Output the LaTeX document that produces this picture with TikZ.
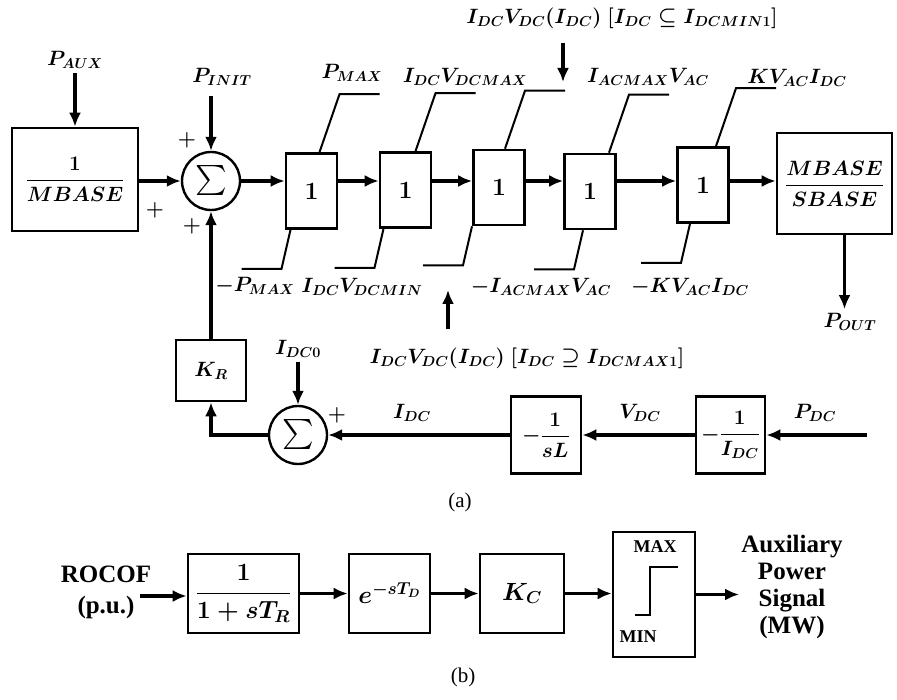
\documentclass[tikz,border=0pt]{standalone}
\usepackage{amsmath,amssymb}
\usepackage{fontspec}
\newfontfamily\timesfont{Liberation Serif}
\usetikzlibrary{arrows.meta,positioning}

\newcommand\mathlbl{\fontsize{19.5}{23}\selectfont\boldmath}
\tikzset{
  blk/.style={draw, line width=2.6pt, inner sep=0pt, font=\mathlbl},
  sumnode/.style={draw, circle, line width=2.4pt, minimum size=58pt, inner sep=0pt, font=\fontsize{30}{30}\selectfont},
  lbl/.style={inner sep=4pt, font=\mathlbl},
  sig/.style={line width=3.2pt, -{Latex[length=14pt,width=12pt]}},
  satline/.style={line width=2pt},
  plus/.style={inner sep=0pt, font=\fontsize{20}{20}\selectfont\boldmath},
  txt/.style={align=center, inner sep=2pt, font={\timesfont\bfseries\fontsize{25}{27}\selectfont}},
  capt/.style={font={\timesfont\fontsize{21}{21}\selectfont}}
}

\begin{document}
\begin{tikzpicture}[x=1pt,y=-1pt]
\useasboundingbox (0,0) rectangle (897,700);

% (a) power limiting chain
\node[blk, minimum width=126pt, minimum height=103pt, font=\fontsize{22.5}{26}\selectfont\boldmath] (mbase) at (75,179.5) {$\displaystyle\frac{1}{MBASE}$};
\node[lbl] (paux) at (75,60) {$P_{AUX}$};
\draw[sig] (paux.south) -- (mbase.north);

\node[sumnode] (sum1) at (211,181) {$\sum$};
\node[lbl] (pinit) at (222,77) {$P_{INIT}$};
\draw[sig, shorten <=6pt] (pinit.south -| sum1.north) -- (sum1.north);
\draw[sig] (mbase.east |- sum1.west) -- (sum1.west);
\node[plus] (pl1) at (187,140) {$+$};
\node[plus] (pl2) at (155,210) {$+$};
\node[plus] (pl3) at (192,226) {$+$};

\foreach \n/\cx/\cy in {1/311.5/191, 2/405.5/190, 3/499/187.5, 4/590/191.5, 5/703/185}
  \node[blk, minimum width=51pt, minimum height=75pt, font=\fontsize{25}{25}\selectfont\boldmath] (lim\n) at (\cx,\cy) {$1$};

\foreach \n/\tx/\bx in {1/8/-21, 2/10/-22, 3/6/-27, 4/19/-7, 5/13/-13}{
  \draw[satline] ([xshift=\tx pt]lim\n.north) -- ++(20,-58) -- ++(40,0);
  \draw[satline] ([xshift=\bx pt]lim\n.south) -- ++(-9,39) -- ++(-40,0);
}

\node[blk, minimum width=115pt, minimum height=101pt, font=\fontsize{22.5}{26}\selectfont\boldmath] (sbase) at (834.5,183.5) {$\displaystyle\frac{MBASE}{SBASE}$};

\draw[sig] (sum1.east) -- (sum1.east -| lim1.west);
\foreach \a/\b in {1/2, 2/3, 3/4, 4/5}
  \draw[sig] (lim\a.east |- sum1.east) -- (sum1.east -| lim\b.west);
\draw[sig] (lim5.east |- sum1.east) -- (sum1.east -| sbase.west);

\node[lbl] (pmax) at (352,73) {$P_{MAX}$};
\node[lbl] (vmax) at (465,77) {$I_{DC}V_{DCMAX}$};
\node[lbl] (iacmax) at (648,77) {$I_{ACMAX}V_{AC}$};
\node[lbl] (kvac) at (797,78) {$KV_{AC}I_{DC}$};
\node[lbl] (vdcmin1) at (622,18) {$I_{DC}V_{DC}(I_{DC})\ [I_{DC}\subseteq I_{DCMIN1}]$};
\coordinate (tip1) at (563,82);
\draw[sig, shorten <=10pt] (vdcmin1.south -| tip1) -- (tip1);

\node[lbl] (nmax) at (255,286) {$-P_{MAX}$};
\node[lbl] (vmin) at (362,287) {$I_{DC}V_{DCMIN}$};
\node[lbl] (niac) at (541,287) {$-I_{ACMAX}V_{AC}$};
\node[lbl] (nkv) at (690,287) {$-KV_{AC}I_{DC}$};
\node[lbl] (vdcmax1) at (527,358) {$I_{DC}V_{DC}(I_{DC})\ [I_{DC}\supseteq I_{DCMAX1}]$};
\coordinate (tip2) at (448,290);
\draw[sig, shorten <=14pt] (vdcmax1.north -| tip2) -- (tip2);

\node[lbl] (pout) at (850,322) {$P_{OUT}$};
\draw[sig] ([xshift=10pt]sbase.south) -- ([xshift=10pt]sbase.south |- pout.north);

% (a) dc feedback
\node[blk, minimum width=70pt, minimum height=61pt, font=\fontsize{22}{26}\selectfont\boldmath] (kr) at (211,370.5) {$K_R$};
\draw[sig] (kr.north) -- (sum1.south);
\node[sumnode] (sum2) at (298,435) {$\sum$};
\draw[sig] (sum2.west) -| (kr.south);
\node[lbl] (idc0) at (298,349) {$I_{DC0}$};
\draw[sig] (idc0.south) -- (sum2.north);
\node[plus] (pl4) at (337,415) {$+$};

\node[blk, minimum width=70pt, minimum height=77pt, font=\fontsize{21}{25}\selectfont\boldmath] (sl) at (546,435) {$\displaystyle-\frac{1}{sL}$};
\node[blk, minimum width=69pt, minimum height=77pt, font=\fontsize{21}{25}\selectfont\boldmath] (idcbox) at (730.5,435) {$\displaystyle-\frac{1}{I_{DC}}$};
\coordinate (pin) at (867,435);
\draw[sig] (pin) -- (idcbox.east);
\draw[sig] (idcbox.west) -- (sl.east);
\draw[sig] (sl.west) -- (sum2.east);
\node[lbl] (idc) at (412,413) {$I_{DC}$};
\node[lbl] (vdc) at (640,413) {$V_{DC}$};
\node[lbl] (pdc) at (815,413) {$P_{DC}$};

\node[capt] (capa) at (460,502) {(a)};

% (b) rocof loop
\node[txt, font={\timesfont\bfseries\fontsize{25}{31}\selectfont}] (rocof) at (106,592) {ROCOF\\(p.u.)};
\node[blk, minimum width=111pt, minimum height=79pt, font=\fontsize{24}{28}\selectfont\boldmath] (tr) at (243.5,593.5) {$\displaystyle\frac{1}{1+sT_R}$};
\node[blk, minimum width=81pt, minimum height=79pt, font=\fontsize{26}{30}\selectfont\boldmath] (td) at (389.5,593.5) {$e^{-sT_D}$};
\node[blk, minimum width=84pt, minimum height=79pt, font=\fontsize{26}{30}\selectfont\boldmath] (kc) at (522,593.5) {$K_C$};
\node[blk, minimum width=82pt, minimum height=125pt] (sat) at (654,594.5) {};
\draw[satline] ([shift={(-19,20.5)}]sat.center) -- ++(15,0) -- ++(0,-48) -- ++(28,0);
\node[inner sep=0pt, font={\timesfont\bfseries\fontsize{18}{18}\selectfont}] (maxl) at ([shift={(1,-47.5)}]sat.center) {MAX};
\node[inner sep=0pt, font={\timesfont\bfseries\fontsize{18}{18}\selectfont}] (minl) at ([shift={(-16,42.5)}]sat.center) {MIN};
\node[txt] (aux) at (792,587) {Auxiliary\\Power\\Signal\\(MW)};

\coordinate (rin) at (140,596);
\draw[sig] (rin) -- (rin -| tr.west);
\draw[sig] (tr.east) -- (td.west);
\draw[sig] (td.east) -- (kc.west);
\draw[sig] (kc.east) -- (kc.east -| sat.west);
\draw[sig] (sat.east) -- (sat.east -| aux.west);

\node[capt] (capb) at (463,677) {(b)};
\end{tikzpicture}
\end{document}
